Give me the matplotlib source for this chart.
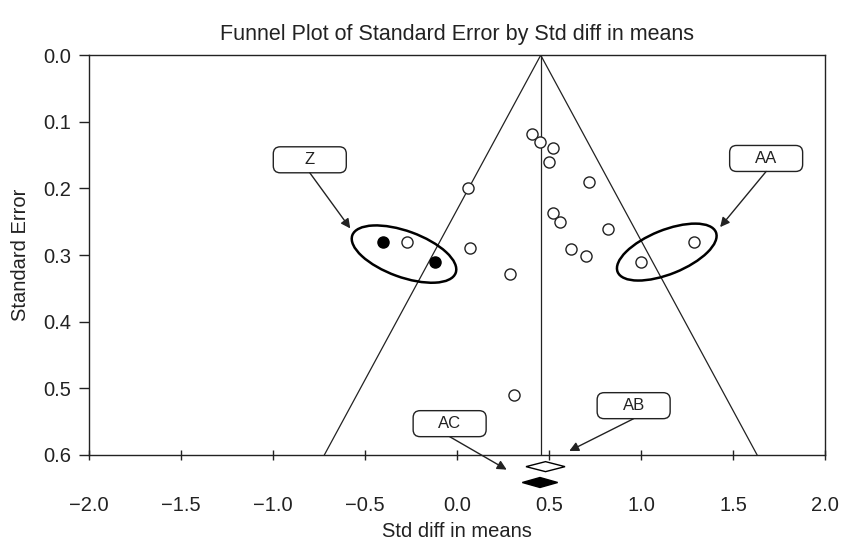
import numpy as np
import matplotlib
matplotlib.use('Agg')
import matplotlib.pyplot as plt
from matplotlib.patches import Ellipse, FancyBboxPatch
from matplotlib.transforms import ScaledTranslation

plt.rcParams['font.family'] = ['Liberation Sans', 'DejaVu Sans']

# Observed studies (open circles)
obs_x = [0.41, 0.45, 0.52, 0.50, 0.72, 0.06, 0.52, 0.56, 0.82, 1.29, 0.07,
         0.62, 0.70, 1.00, 0.29, 0.31, -0.27]
obs_se = [0.118, 0.130, 0.139, 0.160, 0.190, 0.200, 0.237, 0.250, 0.261, 0.281,
          0.290, 0.291, 0.301, 0.310, 0.328, 0.510, 0.280]

# Imputed studies (filled circles)
imp_x = [-0.40, -0.12]
imp_se = [0.281, 0.310]

# Funnel centre
mean_effect = 0.455
se_max = 0.6

# Summary diamonds below the axis: centre, half width
diamond_x = [0.481, 0.451]
diamond_y = [0.6175, 0.6413]
diamond_hw = [0.106, 0.096]
diamond_fill = ['white', 'black']

# Callout labels
labels = ['Z', 'AA', 'AB', 'AC']
label_x = [-0.80, 1.68, 0.96, -0.04]
label_y = [0.157, 0.155, 0.526, 0.553]
tip_x = [-0.58, 1.43, 0.61, 0.27]
tip_y = [0.260, 0.258, 0.594, 0.622]

# Ellipses circling the studies: centre, semi-axes (inches), angle
ell_x = [-0.288, 1.140]
ell_y = [0.2985, 0.2955]
ell_a = [0.55, 0.53]
ell_b = [0.23, 0.22]
ell_ang = [-20, 22]

fig = plt.figure(figsize=(8.41, 5.41), dpi=100)
ax = fig.add_axes([0.1058, 0.159, 0.8752, 0.739])

ax.set_xlim(-2.0, 2.0)
ax.set_ylim(0.6, 0.0)

# funnel
z = 1.96
ax.plot([mean_effect - z * se_max, mean_effect, mean_effect + z * se_max],
        [se_max, 0, se_max], color='#222222', lw=0.9)
ax.plot([mean_effect, mean_effect], [0, se_max], color='#222222', lw=0.9)

ax.plot(obs_x, obs_se, 'o', ms=8, mfc='white', mec='#222222', mew=1.0,
        linestyle='none', zorder=3)
ax.plot(imp_x, imp_se, 'o', ms=8, mfc='black', mec='black', mew=1.0,
        linestyle='none', zorder=3)

# diamonds
for cx, cy, hw, fc in zip(diamond_x, diamond_y, diamond_hw, diamond_fill):
    hh = 0.0075
    ax.fill([cx - hw, cx, cx + hw, cx], [cy, cy - hh, cy, cy + hh],
            facecolor=fc, edgecolor='black', lw=1.0, clip_on=False, zorder=4)

# ellipses in screen space
for cx, cy, a, b, ang in zip(ell_x, ell_y, ell_a, ell_b, ell_ang):
    tr = fig.dpi_scale_trans + ScaledTranslation(cx, cy, ax.transData)
    ax.add_patch(Ellipse((0, 0), 2 * a, 2 * b, angle=ang, transform=tr,
                         fill=False, edgecolor='black', lw=1.8, zorder=5))

# callout boxes and arrows
bw, bh = 0.73, 0.26
for lab, lx, ly, tx, ty in zip(labels, label_x, label_y, tip_x, tip_y):
    tr = fig.dpi_scale_trans + ScaledTranslation(lx, ly, ax.transData)
    ax.add_patch(FancyBboxPatch((-bw / 2, -bh / 2), bw, bh,
                                boxstyle='round,pad=0,rounding_size=0.07',
                                transform=tr, facecolor='white',
                                edgecolor='#222222', lw=1.0, clip_on=False,
                                zorder=6))
    ax.text(lx, ly, lab, ha='center', va='center', fontsize=12,
            color='#222222', zorder=7)
    ax.annotate('', xy=(tx, ty), xytext=(lx, ly + 0.0195),
                arrowprops=dict(arrowstyle='-|>', color='#222222', lw=1.0,
                                mutation_scale=14, shrinkA=0, shrinkB=0),
                annotation_clip=False, zorder=6)

ax.set_xticks(np.arange(-2.0, 2.01, 0.5))
ax.set_yticks(np.arange(0.0, 0.61, 0.1))
ax.set_xticklabels([f'{v:.1f}'.replace('-', '\u2212') for v in np.arange(-2.0, 2.01, 0.5)])
ax.set_yticklabels([f'{v:.1f}' for v in np.arange(0.0, 0.61, 0.1)])
ax.tick_params(axis='x', direction='inout', length=7, width=1, pad=26,
               labelsize=14.5, colors='#222222')
ax.tick_params(axis='y', direction='out', length=7, width=1, pad=6,
               labelsize=14.5, colors='#222222')
for s in ax.spines.values():
    s.set_linewidth(1.0)
    s.set_color('#222222')

ax.set_xlabel('Std diff in means', fontsize=14.5, color='#222222', labelpad=5)
ax.set_ylabel('Standard Error', fontsize=14.5, color='#222222', labelpad=9)
ax.set_title('Funnel Plot of Standard Error by Std diff in means',
             fontsize=15.5, color='#222222', pad=11)

fig.savefig('out.png', dpi=100)
